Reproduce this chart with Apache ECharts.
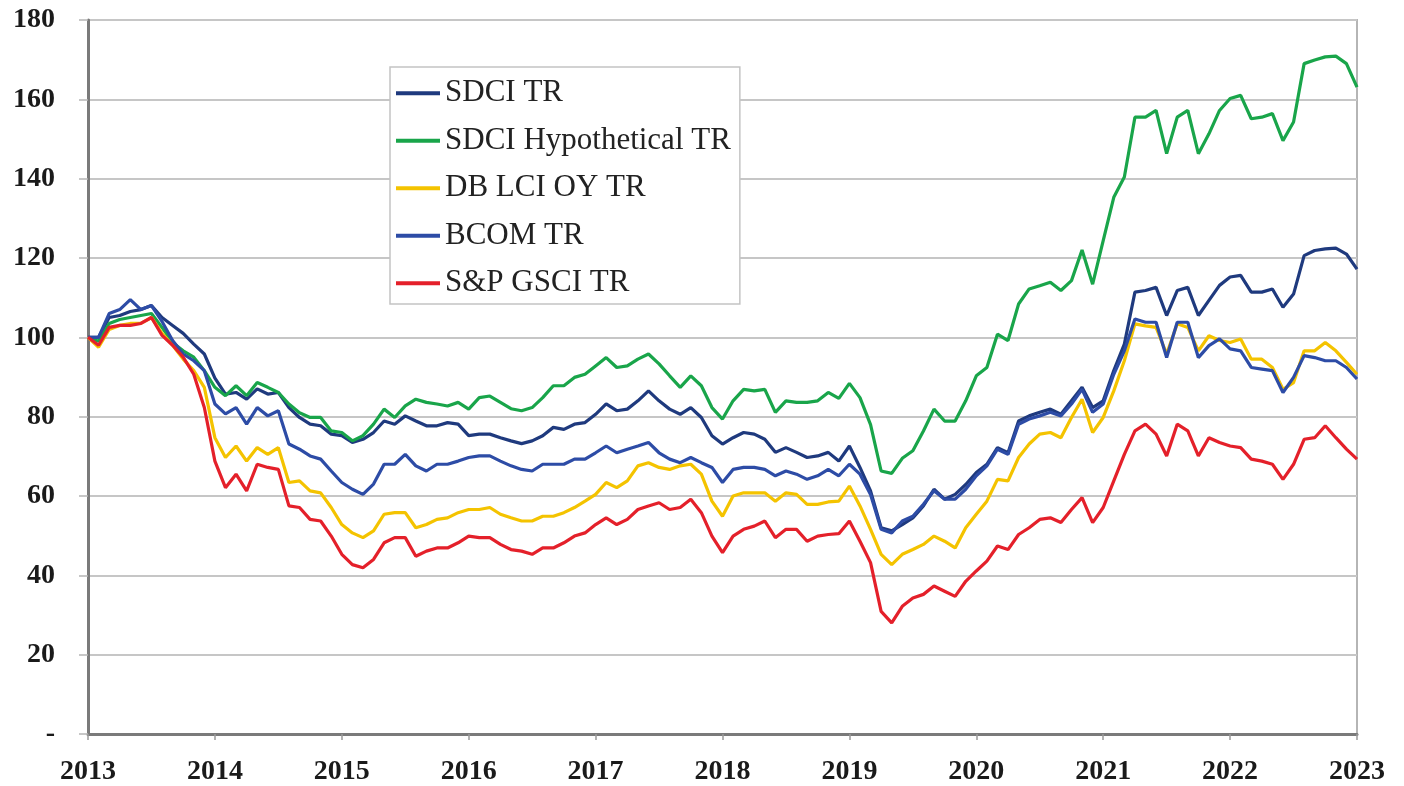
<!DOCTYPE html>
<html>
<head>
<meta charset="utf-8">
<script src="https://cdn.jsdelivr.net/npm/echarts@6/dist/echarts.min.js"></script>
<style>
  html, body { margin: 0; padding: 0; background: #fff; }
  #chart { width: 1404px; height: 786px; }
</style>
</head>
<body>
<div id="chart"></div>
<script>
// monthly index values, Jan 2013 (month 0) .. Jan 2023 (month 120)
const startYear = 2013;
const yearTicks = ['2013','2014','2015','2016','2017','2018','2019','2020','2021','2022','2023'];

const sdciTR = [100,100,105,105.5,106.5,107,108,105,103,101,98.3,95.8,89.7,85.7,86.1,84.4,87,85.7,86.1,82.3,
  79.8,78.1,77.7,75.6,75.2,73.5,74.3,76,78.9,78.1,80.2,78.9,77.7,77.7,78.5,78.1,75.2,75.6,75.6,74.7,
  73.9,73.2,73.9,75.2,77.3,76.8,78.1,78.5,80.6,83.2,81.5,81.9,84,86.5,84,81.9,80.6,82.3,79.8,75.2,
  73.1,74.7,76,75.6,74.3,71,72.2,71,69.7,70.1,71,68.8,72.6,67.2,61.3,52,51.2,52.8,54.5,57.5,
  61.7,59.2,60.4,62.9,65.9,68,72.2,70.9,78.9,80.2,81.1,81.9,80.6,84,87.4,82.3,84,91.6,98.3,111.4,
  111.8,112.6,105.5,111.8,112.6,105.5,109.3,113.1,115.2,115.6,111.4,111.4,112.2,107.6,110.9,120.6,121.9,122.3,122.5,121,
  117.2];

const sdciHypo = [100,99,103.5,104.5,105,105.5,106,102.5,98.7,96.6,95,91.6,87.4,85.3,87.8,85.3,88.6,87.4,86.1,83.2,
  81,79.8,79.8,76.4,76,73.9,75.2,78.1,81.9,79.8,82.7,84.4,83.6,83.2,82.7,83.6,81.9,84.8,85.2,83.6,
  82,81.5,82.3,84.8,87.8,87.8,89.9,90.7,92.8,94.9,92.4,92.8,94.5,95.8,93.3,90.3,87.4,90.3,87.8,82.3,
  79.4,84,86.9,86.5,86.9,81.1,84,83.6,83.6,84,86.1,84.6,88.4,84.8,78,66.3,65.7,69.5,71.4,76.4,
  81.9,78.9,78.9,84,90.3,92.4,100.8,99.2,108.4,112.2,113,113.9,111.8,114.3,122,113.4,124.4,135.3,140.4,155.5,
  155.5,157.2,146.3,155.5,157.2,146.3,151.3,157.2,160.2,161,155.1,155.5,156.4,149.6,154.3,169,169.9,170.7,170.9,169,
  163.1];

const dbLci = [100,97.5,102,103,103.5,103.5,105,101,98,94.5,91.6,87.4,74.7,69.7,72.6,68.8,72.2,70.5,72.2,63.4,
  63.8,61.3,60.8,57.1,52.8,50.7,49.5,51.2,55.4,55.8,55.8,52,52.8,54.1,54.5,55.8,56.6,56.6,57.1,55.4,
  54.5,53.7,53.7,54.9,54.9,55.8,57.1,58.7,60.4,63.4,62.1,63.8,67.6,68.4,67.2,66.7,67.6,68,65.5,58.7,
  54.9,60,60.8,60.8,60.8,58.7,60.8,60.4,57.9,57.9,58.5,58.7,62.5,57.5,51.6,45.3,42.7,45.3,46.5,47.8,
  49.9,48.6,46.9,52,55.4,58.7,64.2,63.8,69.7,73.1,75.6,76,74.7,79.8,84.4,76,79.8,86.5,94.1,103.4,
  102.9,102.5,95.8,103.4,102.5,96.6,100.4,99.2,98.7,99.6,94.5,94.5,92.4,86.9,88.6,96.6,96.6,98.7,96.6,93.7,
  90.7];

const bcomTR = [100,100,106,107,109.5,107,108,104,99.2,95.8,94.1,91.6,83.2,80.7,82.3,78.1,82.3,80.2,81.5,73.1,
  71.8,70.1,69.3,66.3,63.4,61.7,60.4,63,68,68,70.5,67.6,66.3,68,68,68.8,69.7,70.1,70.1,68.8,
  67.6,66.7,66.3,68,68,68,69.3,69.3,70.9,72.6,70.9,71.8,72.6,73.5,70.9,69.3,68.4,69.7,68.4,67.2,
  63.4,66.7,67.2,67.2,66.7,65.1,66.3,65.5,64.2,65.1,66.7,65.1,68,65.5,60.4,51.6,50.7,53.7,54.9,57.9,
  61.3,59.2,59.2,61.7,65.1,67.6,71.8,70.5,78.1,79.4,80.2,81.1,80.2,83.2,86.9,81.1,83.2,90.7,96.6,104.6,
  103.8,103.8,94.9,103.8,103.8,94.9,97.9,99.6,97.1,96.6,92.4,92,91.6,86.1,89.9,95.4,94.9,94.1,94.1,92.4,
  89.5];

const gsciTR = [100,98,102.5,103,103,103.5,105,100.5,98,95,90.7,82.3,68.8,62.1,65.5,61.3,68,67.2,66.7,57.5,
  57.1,54.1,53.7,49.9,45.3,42.7,41.9,44,48.2,49.5,49.5,44.8,46.1,46.9,46.9,48.2,49.9,49.5,49.5,47.8,
  46.5,46.1,45.3,46.9,46.9,48.2,49.9,50.7,52.8,54.5,52.8,54.1,56.6,57.5,58.3,56.6,57.1,59.2,55.8,49.9,
  45.7,49.9,51.6,52.4,53.7,49.5,51.6,51.6,48.6,49.9,50.3,50.5,53.7,48.6,43.2,30.9,28,32.2,34.3,35.2,
  37.3,36,34.7,38.5,41.1,43.6,47.4,46.5,50.3,52,54.1,54.5,53.3,56.6,59.6,53.3,57.1,63.8,70.5,76.4,
  78.1,75.6,70.1,78.1,76.4,70.1,74.7,73.5,72.6,72.2,69.3,68.8,68,64.2,68,74.3,74.7,77.7,74.7,71.8,
  69.3];

const seriesNames = ['SDCI TR', 'SDCI Hypothetical TR', 'DB LCI OY TR', 'BCOM TR', 'S&P GSCI TR'];
const seriesColors = ['#1f3a7e', '#19a54a', '#f4c300', '#2d4ca6', '#e4202a'];
const seriesData = [sdciTR, sdciHypo, dbLci, bcomTR, gsciTR];

const serif = '"Liberation Serif", "DejaVu Serif", serif';

const chart = echarts.init(document.getElementById('chart'));

const option = {
  animation: false,
  backgroundColor: '#fff',
  grid: {
    left: 88, right: 47, top: 20, bottom: 51,
    show: true, borderColor: '#b5b5b5', borderWidth: 2
  },
  legend: {
    orient: 'vertical',
    left: 390, top: 67,
    padding: [10.5, 9, 5, 6],
    itemGap: 16,
    itemWidth: 44, itemHeight: 4,
    icon: 'rect',
    borderColor: '#c4c4c4', borderWidth: 1.5,
    backgroundColor: '#fff',
    textStyle: { fontFamily: serif, fontSize: 31, lineHeight: 31.5, color: '#222' },
    data: seriesNames
  },
  xAxis: {
    type: 'value',
    min: 0, max: 120, interval: 12,
    axisLine: { show: true, lineStyle: { color: '#7a7a7a', width: 3 } },
    axisTick: { show: true, length: 6, lineStyle: { color: '#9a9a9a', width: 1.5 } },
    splitLine: { show: false },
    axisLabel: {
      margin: 24, showMaxLabel: true,
      fontFamily: serif, fontWeight: 'bold', fontSize: 28, color: '#1a1a1a',
      formatter: v => yearTicks[Math.round(v / 12)] || String(startYear + v / 12)
    }
  },
  yAxis: {
    type: 'value',
    min: 0, max: 180, interval: 20,
    axisLine: { show: true, lineStyle: { color: '#7a7a7a', width: 3 } },
    axisTick: { show: true, length: 9, lineStyle: { color: '#b5b5b5', width: 1.5 } },
    splitLine: { show: true, lineStyle: { color: '#c6c6c6', width: 2 } },
    axisLabel: {
      margin: 33,
      fontFamily: serif, fontWeight: 'bold', fontSize: 28, color: '#1a1a1a',
      formatter: v => v === 0 ? '-' : String(v)
    }
  },
  series: seriesNames.map((name, i) => ({
    name: name,
    type: 'line',
    showSymbol: false,
    symbol: 'none',
    color: seriesColors[i],
    lineStyle: { width: 3.2, color: seriesColors[i] },
    data: seriesData[i].map((v, m) => [m, v])
  }))
};

chart.setOption(option);
</script>
</body>
</html>
